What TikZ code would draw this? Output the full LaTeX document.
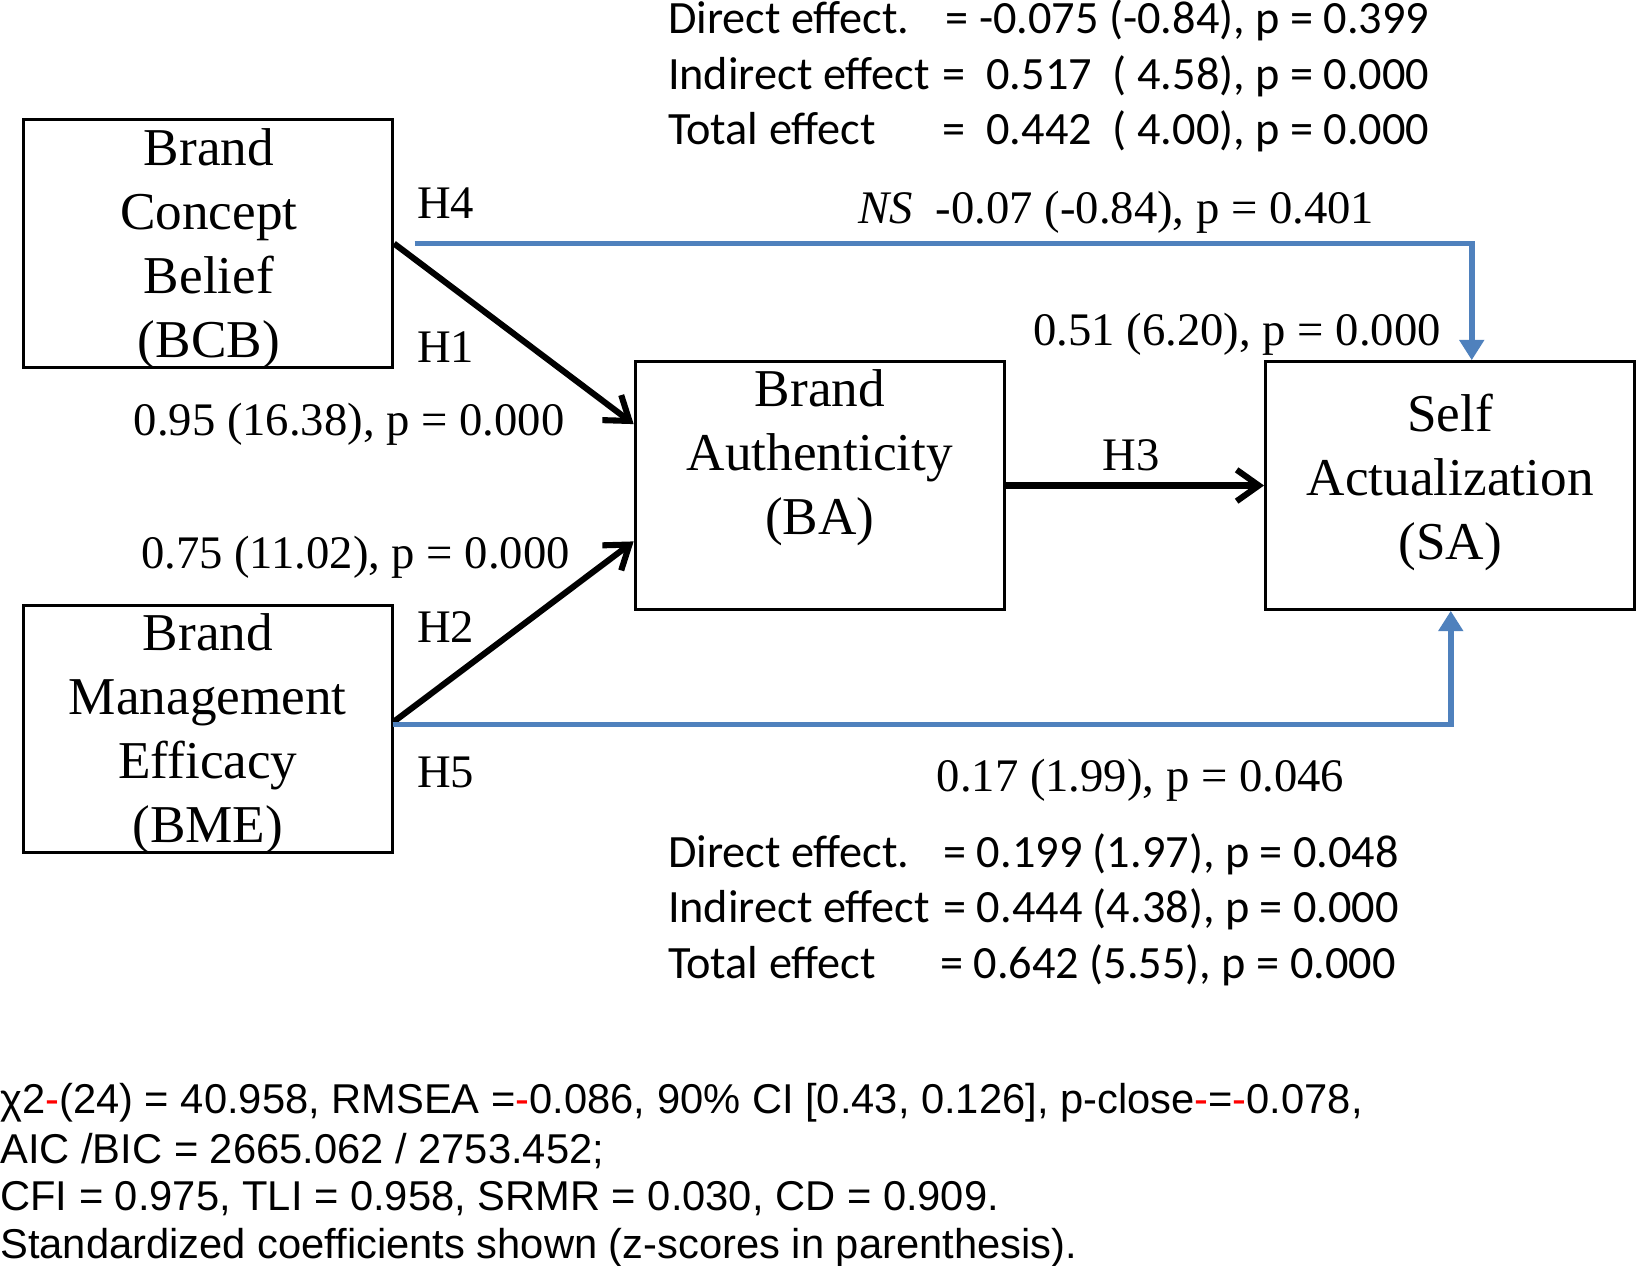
\documentclass[tikz,border=0pt]{standalone}
\usepackage{fontspec}
\setmainfont{Liberation Serif}
\newfontfamily\calfont{Carlito}
\newfontfamily\arifont{Liberation Sans}
\usetikzlibrary{arrows.meta,calc}
\definecolor{pathblue}{RGB}{79,129,189}
\begin{document}
\begin{tikzpicture}[x=0.02cm,y=-0.02cm,
  box/.style={draw,line width=1.6pt,minimum width=7.04cm,minimum height=4.72cm,inner sep=0pt},
  boxtext/.style={align=center,inner sep=0pt,font=\fontsize{28.85pt}{34.7pt}\selectfont},
  lbl/.style={inner sep=0pt,anchor=base west,font=\fontsize{25.3pt}{30pt}\selectfont},
  eff/.style={inner sep=0pt,font=\calfont\fontsize{25.1pt}{30pt}\selectfont},
  fitline/.style={inner sep=0pt,anchor=base west,font=\arifont\fontsize{22.6pt}{26pt}\selectfont},
  blk/.style={line width=3.3pt,-{Straight Barb[length=12pt,width=17pt]}},
  bluearrow/.style={pathblue,line width=3pt,line join=miter,-{Triangle[length=11pt,width=13pt]}}]
\useasboundingbox (0,0) rectangle (1568,1206);

% boxes
\node[box] (BCB) at (198,232) {};
\node[box] (BME) at (198,694.5) {};
\node[box] (BA) at (781,462.5) {};
\node[box] (SA) at (1381.5,462.5) {};

\node[boxtext] (tBCB) at (199,236.7) {Brand\\Concept\\Belief\\(BCB)};
\node[boxtext] (tBME) at (198,699) {Brand\\Management\\Efficacy\\(BME)};
\node[boxtext] (tBA) at (781,436) {Brand\\Authenticity\\(BA)};
\node[boxtext] (tSA) at (1381.5,459.7) {Self\\Actualization\\(SA)};

% connectors
\draw[blk] (BCB.east) -- ($(BA.north west)!0.255!(BA.south west)$);
\draw[blk] ($(BME.north east)!0.47!(BME.south east)$) -- ($(BA.north west)!0.723!(BA.south west)$);
\draw[blk] (BA.east) -- (SA.west);
\coordinate (h4s) at (395,232);
\coordinate (h4c) at (1402,232);
\draw[bluearrow] (h4s) -- (h4c) -- (SA.north -| h4c);
\coordinate (h5s) at (374,690);
\coordinate (h5c) at (1382,690);
\draw[bluearrow] (h5s) -- (h5c) -- (SA.south -| h5c);

% path labels
\node[lbl] (lH4) at (397,208) {H4};
\node[lbl] (lH1) at (397,345) {H1};
\node[lbl] (lH2) at (397,612) {H2};
\node[lbl] (lH5) at (397,750) {H5};
\node[lbl] (lH3) at (1050,448) {H3};
\node[lbl] (c1) at (127,415) {0.95 (16.38), p = 0.000};
\node[lbl] (c2) at (134,542) {0.75 (11.02), p = 0.000};
\node[lbl] (c4) at (817,213) {\textit{NS}\ \ -0.07 (-0.84), p = 0.401};
\node[lbl] (c3) at (984,329) {0.51 (6.20), p = 0.000};
\node[lbl] (c5) at (892,754) {0.17 (1.99), p = 0.046};

% effects top
\node[eff,anchor=base west] (td1) at (636,32) {Direct effect.};
\node[eff,anchor=base west] (ti1) at (636,85) {Indirect effect};
\node[eff,anchor=base west] (tt1) at (636,138) {Total effect};
\node[eff,anchor=base east] (td2) at (1362,32) {= -0.075 (-0.84), p = 0.399};
\node[eff,anchor=base east] (ti2) at (1362,85) {=\ \ 0.517\ \ (\ 4.58), p = 0.000};
\node[eff,anchor=base east] (tt2) at (1362,138) {=\ \ 0.442\ \ (\ 4.00), p = 0.000};

% effects bottom
\node[eff,anchor=base west] (bd1) at (636,826) {Direct effect.};
\node[eff,anchor=base west] (bi1) at (636,879) {Indirect effect};
\node[eff,anchor=base west] (bt1) at (636,932) {Total effect};
\node[eff,anchor=base east] (bd2) at (1333,826) {= 0.199 (1.97), p = 0.048};
\node[eff,anchor=base east] (bi2) at (1333,879) {= 0.444 (4.38), p = 0.000};
\node[eff,anchor=base east] (bt2) at (1330,932) {= 0.642 (5.55), p = 0.000};

% fit statistics
\node[fitline] (f1) at (0,1061) {χ2{\color{red}-}(24) = 40.958, RMSEA ={\color{red}-}0.086, 90\% CI [0.43, 0.126], p-close{\color{red}-}={\color{red}-}0.078,};
\node[fitline] (f2) at (0,1108) {AIC /BIC = 2665.062 / 2753.452;};
\node[fitline] (f3) at (0,1153) {CFI = 0.975, TLI = 0.958, SRMR = 0.030, CD = 0.909.};
\node[fitline] (f4) at (0,1199) {Standardized coefficients shown (z-scores in parenthesis).};
\end{tikzpicture}
\end{document}
